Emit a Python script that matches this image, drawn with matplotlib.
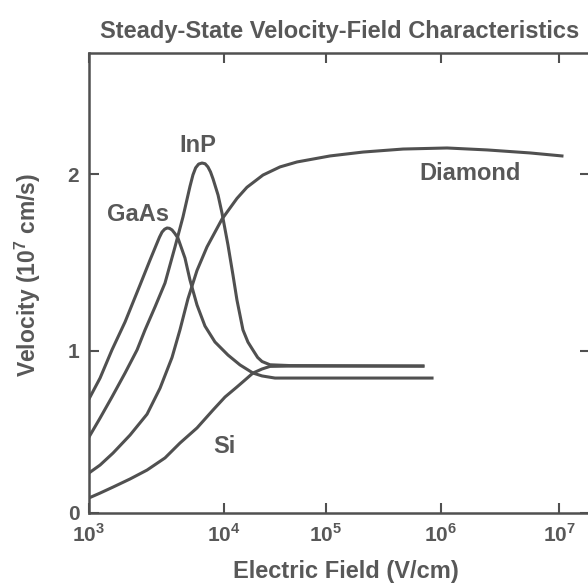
import matplotlib
matplotlib.use("Agg")
import matplotlib.pyplot as plt
import numpy as np

plt.rcParams['font.family'] = ['Liberation Sans', 'DejaVu Sans']
plt.rcParams['mathtext.fontset'] = 'custom'
plt.rcParams['mathtext.rm'] = 'Liberation Sans:bold'

# log10 of electric field (V/cm) and velocity (1e7 cm/s)
gaas_logE = [3.0, 3.082, 3.170, 3.267, 3.378, 3.452, 3.504, 3.522, 3.541, 3.560,
             3.578, 3.596, 3.615, 3.635, 3.659, 3.711, 3.748, 3.800, 3.859, 3.933,
             4.039, 4.157, 4.284, 4.373, 4.500, 5.922]
gaas_v = [0.704, 0.833, 1.006, 1.164, 1.373, 1.514, 1.610, 1.643, 1.672, 1.688,
          1.695, 1.693, 1.684, 1.665, 1.638, 1.525, 1.401, 1.260, 1.141, 1.051,
          0.975, 0.914, 0.864, 0.846, 0.833, 0.833]

inp_logE = [3.0, 3.082, 3.170, 3.267, 3.356, 3.415, 3.489, 3.563, 3.637, 3.696,
            3.748, 3.770, 3.790, 3.812, 3.837, 3.860, 3.881, 3.900, 3.919, 3.956,
            3.985, 4.039, 4.088, 4.127, 4.186, 4.235, 4.284, 4.330, 4.373, 4.451,
            4.647, 5.843]
inp_v = [0.469, 0.586, 0.716, 0.864, 1.006, 1.119, 1.249, 1.384, 1.588, 1.757,
         1.930, 1.995, 2.035, 2.056, 2.062, 2.058, 2.040, 2.012, 1.972, 1.881,
         1.780, 1.599, 1.429, 1.288, 1.119, 1.050, 1.005, 0.960, 0.935, 0.915,
         0.910, 0.907]

diamond_logE = [3.0, 3.082, 3.178, 3.304, 3.430, 3.526, 3.615, 3.674, 3.733, 3.800,
                3.874, 3.985, 4.127, 4.225, 4.382, 4.549, 4.716, 5.035, 5.322, 5.670,
                6.051, 6.390, 6.754, 7.025]
diamond_v = [0.247, 0.296, 0.370, 0.481, 0.610, 0.770, 0.960, 1.120, 1.295, 1.455,
             1.588, 1.745, 1.862, 1.925, 1.994, 2.040, 2.068, 2.102, 2.124, 2.141,
             2.147, 2.136, 2.119, 2.102]

si_logE = [3.0, 3.082, 3.178, 3.304, 3.430, 3.563, 3.674, 3.800, 3.919, 4.010,
           4.127, 4.206, 4.284, 4.373, 4.451, 4.647, 5.843]
si_v = [0.093, 0.123, 0.160, 0.210, 0.265, 0.340, 0.432, 0.525, 0.636, 0.716,
        0.778, 0.821, 0.864, 0.889, 0.905, 0.907, 0.907]

xticks = [1e3, 1e4, 1e5, 1e6, 1e7]
xticklabels = ['$10^{3}$', '$10^{4}$', '$10^{5}$', '$10^{6}$', '$10^{7}$']
yticks = [0, 1, 2]

# the printed axes are not evenly spaced, so map the decades piecewise
dec = [2, 3, 4, 5, 6, 7, 8]
dec_pos = [-135, 0, 135, 237, 352, 470, 588]
def xfwd(x):
    return np.interp(np.log10(np.maximum(x, 1e-300)), dec, dec_pos)
def xinv(t):
    return 10 ** np.interp(t, dec_pos, dec)

vv = [-1, 0, 1, 2, 3]
vv_pos = [-162, 0, 162, 339, 516]
def yfwd(y):
    return np.interp(y, vv, vv_pos)
def yinv(t):
    return np.interp(t, vv_pos, vv)

col = '#505050'
tcol = '#585858'

fig = plt.figure(figsize=(5.88, 5.85), dpi=100)
ax = fig.add_axes([89/588, 72/585, 501/588, 460/585])
ax.set_xscale('function', functions=(xfwd, xinv))
ax.set_yscale('function', functions=(yfwd, yinv))

for le, v in [(gaas_logE, gaas_v), (inp_logE, inp_v), (diamond_logE, diamond_v), (si_logE, si_v)]:
    ax.plot(10 ** np.array(le), v, color=col, lw=2.2, solid_joinstyle='round')

ax.set_xlim(1e3, xinv(501))
ax.set_ylim(0, yinv(460))

ax.set_xticks(xticks)
ax.set_xticklabels(xticklabels)
ax.set_yticks(yticks)
ax.set_yticklabels([str(t) for t in yticks])
ax.minorticks_off()
ax.tick_params(direction='in', length=7, width=1.5, color=col, labelsize=15,
               labelcolor=tcol, top=True, right=True, pad=7)
for t in ax.get_xticklabels() + ax.get_yticklabels():
    t.set_fontweight('bold')
for s in ax.spines.values():
    s.set_linewidth(1.8)
    s.set_color(col)

ax.set_title('Steady-State Velocity-Field Characteristics', fontsize=17,
             fontweight='bold', color=tcol, pad=11)
ax.set_xlabel('Electric Field (V/cm)', fontsize=17, fontweight='bold', color=tcol)
ax.xaxis.set_label_coords(0.513, -0.103)
ax.set_ylabel('Velocity ($10^7$ cm/s)', fontsize=16.5, fontweight='bold', color=tcol)
ax.yaxis.set_label_coords(-0.092, 0.517)

lab = dict(fontsize=17, fontweight='bold', color=tcol, ha='center', va='center',
           transform=ax.transAxes)
ax.text(0.2176, 0.800, 'InP', **lab)
ax.text(0.0978, 0.648, 'GaAs', **lab)
ax.text(0.760, 0.739, 'Diamond', **lab)
ax.text(0.2695, 0.1435, 'Si', **lab)

fig.savefig('out.png', dpi=100)
